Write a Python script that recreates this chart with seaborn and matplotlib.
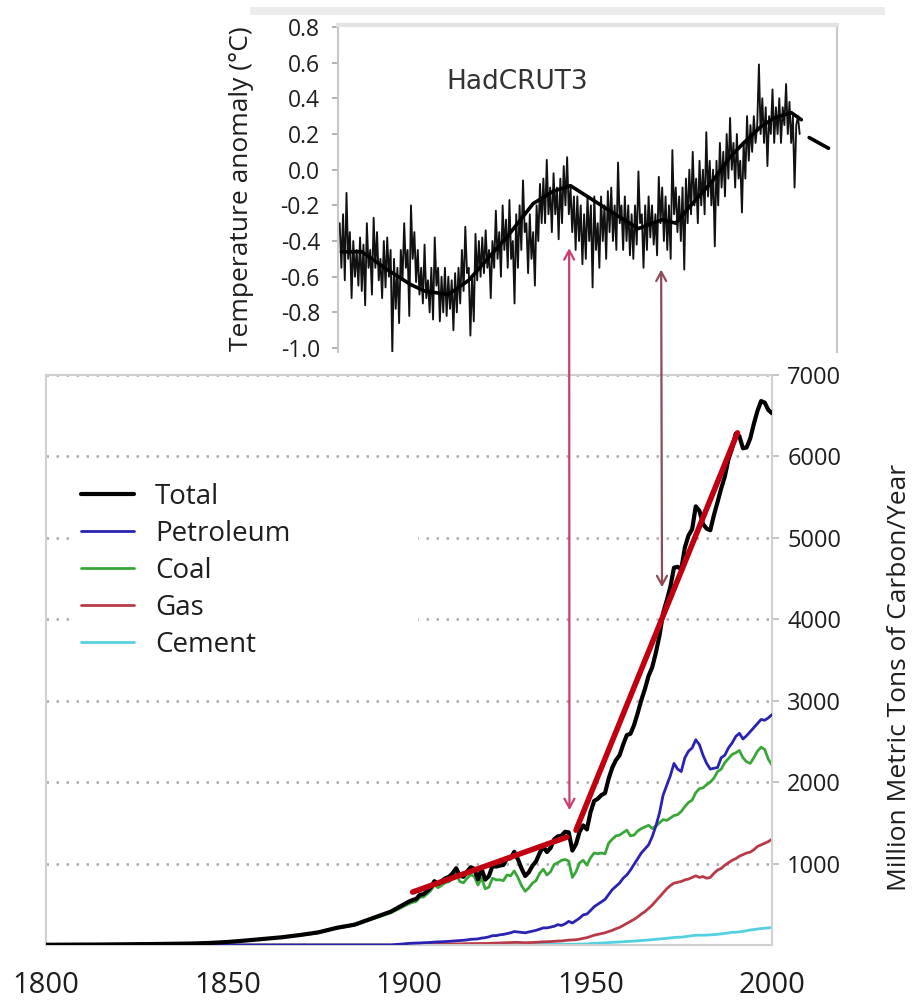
import numpy as np
import pandas as pd
import seaborn as sns
import matplotlib.pyplot as plt
from matplotlib.patches import Rectangle

# ---------------- data: emissions (million metric tons of carbon / year) -------------
years_early = [1800, 1805, 1810, 1815, 1820, 1825, 1830, 1835, 1840, 1845,
               1850, 1855, 1860, 1865, 1870, 1875, 1880, 1885, 1890, 1895]
years_annual = list(range(1900, 2001))
years = years_early + years_annual

total = [3, 4, 5, 6, 8, 10, 12, 15, 18, 25, 37, 55, 75, 95, 123, 155, 210, 250, 330, 410,
         534, 552, 566, 617, 624, 663, 707, 784, 750, 785,
         819, 836, 879, 943, 850, 838, 901, 955, 936, 806,
         932, 803, 845, 970, 963, 975, 983, 1062, 1065, 1145,
         1053, 940, 847, 893, 973, 1027, 1130, 1209, 1142, 1192,
         1299, 1334, 1342, 1391, 1383, 1160, 1238, 1392, 1469, 1419,
         1630, 1768, 1796, 1841, 1865, 2043, 2178, 2270, 2330, 2462,
         2577, 2594, 2700, 2848, 3008, 3145, 3305, 3411, 3588, 3800,
         4076, 4231, 4399, 4635, 4644, 4615, 4883, 5029, 5105, 5387,
         5332, 5168, 5113, 5094, 5280, 5439, 5607, 5752, 5965, 6097,
         6280, 6250, 6100, 6110, 6220, 6400, 6560, 6680, 6660, 6570, 6530]

petroleum = [0] * 20 + [
    20, 22, 24, 25, 28, 30, 32, 36, 38, 40,
    42, 45, 48, 52, 55, 58, 62, 70, 72, 75,
    85, 90, 100, 115, 115, 125, 130, 140, 150, 165,
    160, 155, 150, 160, 170, 180, 195, 210, 210, 220,
    230, 250, 240, 260, 290, 270, 300, 330, 370, 380,
    423, 470, 500, 530, 560, 620, 680, 720, 760, 820,
    860, 920, 990, 1060, 1130, 1180, 1230, 1330, 1460, 1620,
    1840, 1960, 2080, 2230, 2160, 2130, 2300, 2380, 2420, 2520,
    2460, 2330, 2230, 2160, 2170, 2180, 2300, 2330, 2420, 2480,
    2560, 2600, 2530, 2570, 2620, 2670, 2720, 2770, 2760, 2790, 2830]

coal = [3, 4, 5, 6, 8, 10, 12, 15, 18, 25, 37, 54, 74, 93, 120, 150, 205, 243, 320, 395,
        507, 524, 536, 586, 590, 627, 668, 742, 703, 734,
        765, 778, 815, 873, 778, 763, 819, 865, 840, 736,
        822, 690, 710, 820, 800, 800, 790, 860, 850, 910,
        830, 730, 660, 700, 760, 790, 880, 930, 860, 900,
        990, 1010, 1040, 1050, 1030, 830, 900, 1010, 1040, 980,
        1070, 1130, 1120, 1130, 1120, 1250, 1300, 1340, 1350, 1380,
        1410, 1340, 1350, 1400, 1430, 1450, 1470, 1430, 1460, 1500,
        1540, 1530, 1560, 1590, 1600, 1640, 1700, 1750, 1780, 1870,
        1920, 1930, 1970, 2000, 2050, 2130, 2160, 2240, 2290, 2340,
        2360, 2390, 2300, 2250, 2230, 2300, 2380, 2430, 2400, 2280, 2210]

gas = [0] * 20 + [
    5, 5, 6, 6, 7, 7, 8, 9, 9, 10,
    11, 12, 13, 14, 14, 15, 16, 17, 18, 18,
    19, 19, 20, 22, 24, 25, 27, 29, 30, 32,
    32, 30, 28, 29, 31, 33, 36, 39, 40, 42,
    45, 48, 50, 55, 60, 62, 65, 72, 82, 90,
    105, 120, 130, 140, 150, 165, 180, 200, 215, 240,
    265, 290, 315, 345, 380, 410, 450, 490, 540, 590,
    640, 690, 730, 760, 770, 780, 800, 810, 830, 850,
    830, 840, 820, 830, 880, 920, 940, 980, 1010, 1040,
    1060, 1090, 1110, 1130, 1140, 1170, 1210, 1230, 1250, 1270, 1300]

cement = [0] * 20 + [
    0, 0, 0, 0, 0, 1, 1, 1, 1, 1,
    1, 1, 1, 2, 2, 2, 2, 2, 2, 2,
    3, 3, 3, 4, 4, 4, 5, 5, 5, 6,
    6, 6, 5, 5, 6, 6, 7, 8, 8, 9,
    9, 10, 10, 10, 10, 8, 10, 11, 12, 13,
    18, 20, 22, 24, 26, 30, 32, 35, 38, 40,
    43, 45, 48, 51, 55, 58, 62, 66, 70, 74,
    78, 82, 87, 92, 96, 96, 102, 108, 114, 120,
    120, 121, 121, 125, 128, 131, 137, 143, 149, 156,
    157, 161, 167, 176, 184, 190, 196, 201, 206, 211, 215]

# hand-drawn trend segments on the emissions panel
trend1_years = [1901, 1943.5]
trend1_vals = [650, 1325]
trend2_years = [1946, 1990.5]
trend2_vals = [1410, 6290]

# ---------------- data: HadCRUT3 temperature anomaly (half-year samples) ---------------
temp_years = list(np.arange(1878.0, 2014.0, 0.5))
temp_vals = [
    -0.30, -0.55, -0.25, -0.62, -0.13, -0.50, -0.35, -0.72, -0.40, -0.60,
    -0.45, -0.65, -0.38, -0.68, -0.42, -0.76, -0.30, -0.55, -0.45, -0.70,
    -0.27, -0.55, -0.35, -0.62, -0.50, -0.72, -0.40, -0.66, -0.38, -0.60,
    -0.45, -1.03, -0.50, -0.78, -0.55, -0.86, -0.45, -0.62, -0.30, -0.55,
    -0.45, -0.82, -0.20, -0.50, -0.35, -0.63, -0.45, -0.70, -0.55, -0.75,
    -0.42, -0.72, -0.62, -0.80, -0.55, -0.84, -0.38, -0.65, -0.55, -0.85,
    -0.60, -0.80, -0.55, -0.82, -0.60, -0.78, -0.62, -0.90, -0.58, -0.80,
    -0.55, -0.75, -0.45, -0.68, -0.32, -0.58, -0.55, -0.93, -0.60, -0.85,
    -0.36, -0.62, -0.40, -0.60, -0.38, -0.58, -0.34, -0.55, -0.45, -0.72,
    -0.40, -0.55, -0.23, -0.50, -0.35, -0.60, -0.20, -0.45, -0.28, -0.55,
    -0.17, -0.50, -0.40, -0.75, -0.25, -0.55, -0.20, -0.45, -0.06, -0.35,
    -0.30, -0.58, -0.25, -0.50, -0.35, -0.65, -0.20, -0.40, -0.08, -0.30,
    -0.05, -0.30, 0.055, -0.25, -0.10, -0.35, -0.02, -0.25, -0.10, -0.39,
    -0.05, -0.30, 0.02, -0.20, 0.07, -0.25, -0.10, -0.35, -0.15, -0.45,
    -0.15, -0.40, -0.20, -0.53, -0.25, -0.50, -0.15, -0.40, -0.20, -0.66,
    -0.15, -0.45, -0.30, -0.55, -0.15, -0.40, -0.20, -0.50, -0.12, -0.35,
    -0.10, -0.40, -0.20, -0.45, 0.04, -0.30, -0.20, -0.45, -0.15, -0.40,
    -0.20, -0.48, -0.25, -0.50, -0.20, -0.42, -0.01, -0.30, -0.25, -0.55,
    -0.20, -0.45, -0.15, -0.38, -0.20, -0.42, -0.25, -0.48, -0.04, -0.30,
    -0.10, -0.40, -0.15, -0.45, -0.20, -0.50, 0.11, -0.25, -0.10, -0.35,
    -0.15, -0.40, -0.10, -0.56, -0.05, -0.30, 0.00, -0.25, 0.10, -0.20,
    -0.05, -0.30, 0.05, -0.20, 0.00, -0.25, 0.21, -0.15, 0.05, -0.20,
    0.00, -0.43, 0.05, -0.20, 0.15, -0.10, 0.10, -0.15, 0.20, -0.05,
    0.29, 0.00, 0.15, -0.10, 0.20, -0.05, 0.05, -0.24, 0.15, -0.05,
    0.30, 0.05, 0.25, 0.10, 0.30, 0.15, 0.25, 0.59, 0.20, 0.40,
    0.15, 0.35, 0.02, 0.30, 0.20, 0.45, 0.15, 0.35, 0.20, 0.40,
    0.15, 0.35, 0.25, 0.48, 0.20, 0.38, 0.15, 0.30, -0.10, 0.25,
    0.30, 0.20]

trend_years = [1878.5, 1884.5, 1892, 1899, 1903, 1910, 1916, 1922, 1928, 1935,
               1941, 1946, 1960, 1966, 1973, 1977, 1981, 1988, 1993, 1997,
               2002, 2006, 2011, 2014]
trend_vals = [-0.46, -0.46, -0.56, -0.645, -0.68, -0.70, -0.62, -0.49, -0.36, -0.19,
              -0.12, -0.09, -0.26, -0.33, -0.28, -0.30, -0.21, -0.06, 0.07, 0.15,
              0.24, 0.29, 0.32, 0.28]
proj_years = [2016.3, 2022]
proj_vals = [0.18, 0.12]

temp_ticks = [0.8, 0.6, 0.4, 0.2, 0.0, -0.2, -0.4, -0.6, -0.8, -1.0]
year_ticks = [1800, 1850, 1900, 1950, 2000]
emis_ticks = [1000, 2000, 3000, 4000, 5000, 6000, 7000]

# ---------------- style ----------------
sns.set_theme(style="white")
plt.rcParams["font.family"] = ["Open Sans", "DejaVu Sans"]
plt.rcParams["axes.unicode_minus"] = False

W, H = 914, 1000
fig = plt.figure(figsize=(W / 100, H / 100), dpi=100)
fig.patch.set_facecolor("white")

# light grey strip at the very top (part of the original composite)
fig.add_artist(Rectangle((250 / W, 1 - 15 / H), 635 / W, 8 / H,
                         transform=fig.transFigure, color="#ececec", lw=0))

ax_bot = fig.add_axes([46 / W, 1 - 945 / H, (772 - 46) / W, (945 - 375) / H])
ax_top = fig.add_axes([338 / W, 1 - 352 / H, (837 - 338) / W, (352 - 25) / H])
ax_top.patch.set_alpha(0)

TXT = "#1e1e1e"

# ---------------- bottom panel ----------------
ax = ax_bot
sns.lineplot(x=years, y=cement, ax=ax, color="#55d0e0", lw=2, label="Cement", zorder=2)
sns.lineplot(x=years, y=gas, ax=ax, color="#b83a48", lw=2, label="Gas", zorder=2)
sns.lineplot(x=years, y=coal, ax=ax, color="#3aa63a", lw=2, label="Coal", zorder=2)
sns.lineplot(x=years, y=petroleum, ax=ax, color="#2a22b0", lw=2, label="Petroleum", zorder=3)
sns.lineplot(x=years, y=total, ax=ax, color="black", lw=3, label="Total", zorder=4)
sns.lineplot(x=trend1_years, y=trend1_vals, ax=ax, color="#c00010", lw=4, zorder=5)
sns.lineplot(x=trend2_years, y=trend2_vals, ax=ax, color="#c00010", lw=4, zorder=5)

ax.set_xlim(1800, 2000)
ax.set_ylim(0, 7000)
ax.set_xticks(year_ticks)
ax.set_xticklabels([str(y) for y in year_ticks])
ax.set_yticks(emis_ticks)
ax.set_yticklabels([str(v) for v in emis_ticks])
ax.yaxis.tick_right()
ax.yaxis.set_label_position("right")
ax.set_ylabel("Million Metric Tons of Carbon/Year", fontsize=19, color=TXT)
ax.yaxis.set_label_coords(1.158, 0.47)
ax.set_xlabel("")
ax.tick_params(axis="x", labelsize=21, pad=19, length=0, colors=TXT)
ax.tick_params(axis="y", labelsize=17, pad=6, length=5, color="#bbbbbb",
               labelcolor=TXT, direction="out", right=True, left=False)
ax.yaxis.grid(True, linestyle=(0, (1, 3)), color="#aaaaaa", lw=1.8)
ax.xaxis.grid(False)
for s in ax.spines.values():
    s.set_color("#d0d0d0")
    s.set_linewidth(1.5)

h, l = ax.get_legend_handles_labels()
order = ["Total", "Petroleum", "Coal", "Gas", "Cement"]
hd = dict(zip(l, h))
leg = ax.legend([hd[k] for k in order], order, loc="upper left",
                bbox_to_anchor=(0.041, 0.82, 0.47, 0.0), mode="expand",
                frameon=True, framealpha=1, edgecolor="white", fontsize=20,
                handlelength=1.9, handletextpad=0.75, labelspacing=0.32,
                borderpad=0.2, borderaxespad=0.0)
for t in leg.get_texts():
    t.set_color(TXT)

# ---------------- top panel ----------------
ax = ax_top
sns.lineplot(x=temp_years, y=temp_vals, ax=ax, color="#111111", lw=1.35, zorder=2)
sns.lineplot(x=trend_years, y=trend_vals, ax=ax, color="black", lw=2.6, zorder=3)
sns.lineplot(x=proj_years, y=proj_vals, ax=ax, color="black", lw=2.6, zorder=3)
ax.set_xlim(1877.5, 2024.5)
ax.set_ylim(-1.022, 0.811)
ax.set_yticks(temp_ticks)
ax.set_yticklabels([f"{v:.1f}" for v in temp_ticks])
ax.set_xticks([])
ax.set_xlabel("")
ax.set_ylabel("Temperature anomaly (\u00b0C)", fontsize=19, color=TXT)
ax.yaxis.set_label_coords(-0.168, 0.5)
ax.tick_params(axis="y", labelsize=16.5, pad=9, length=4, color="#aaaaaa",
               labelcolor=TXT, direction="out", left=True)
ax.spines["bottom"].set_visible(False)
ax.spines["left"].set_color("#c8c8c8")
ax.spines["right"].set_color("#c8c8c8")
ax.spines["top"].set_color("#e2e2e2")
ax.spines["top"].set_linewidth(3)
ax.spines["left"].set_linewidth(1.5)
ax.spines["right"].set_linewidth(1.5)
ax.text(0.36, 0.826, "HadCRUT3", transform=ax.transAxes, fontsize=19,
        family=["DejaVu Sans"], color="#333333", ha="center", va="center")

# ---------------- double-headed arrows linking the panels ----------------
ax_top.annotate("", xy=(1944.2, 1656), xycoords=ax_bot.transData,
                xytext=(1945.6, -0.44), textcoords=ax_top.transData,
                arrowprops=dict(arrowstyle="<->,head_length=0.55,head_width=0.3",
                                color="#cc3d6c", lw=1.6, shrinkA=0, shrinkB=0),
                annotation_clip=False, zorder=10)
ax_top.annotate("", xy=(1969.7, 4393), xycoords=ax_bot.transData,
                xytext=(1972.7, -0.56), textcoords=ax_top.transData,
                arrowprops=dict(arrowstyle="<->,head_length=0.55,head_width=0.3",
                                color="#8e4a56", lw=1.6, shrinkA=0, shrinkB=0),
                annotation_clip=False, zorder=10)

fig.savefig("out.png", dpi=100)
